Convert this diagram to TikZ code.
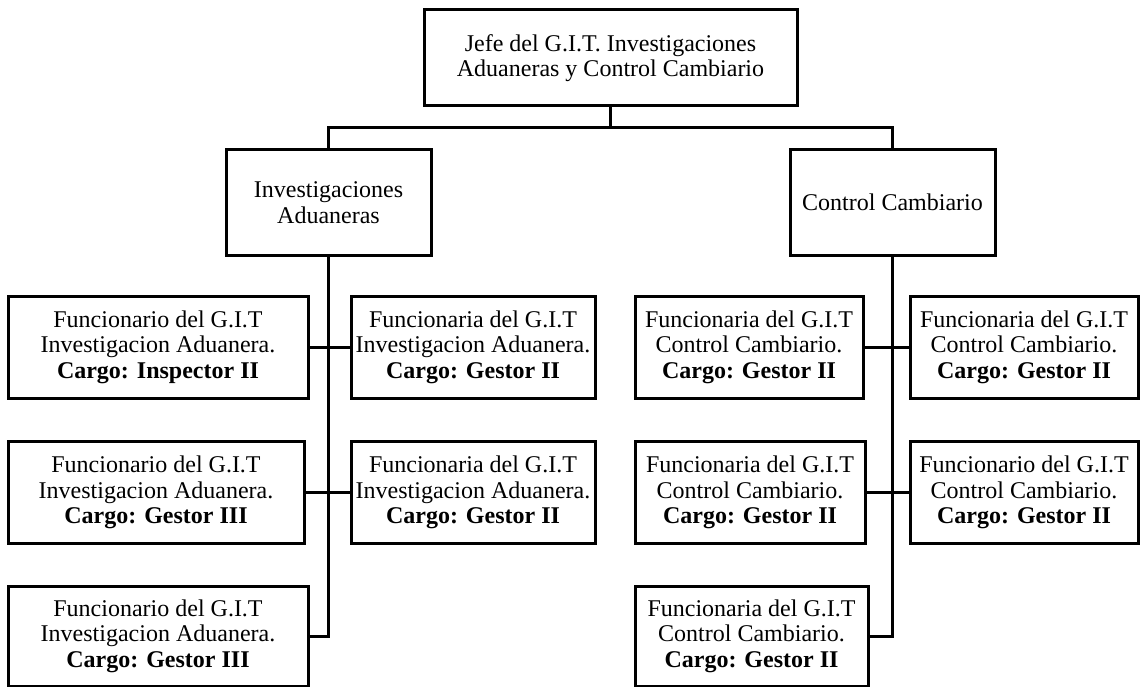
\documentclass[tikz,border=0pt]{standalone}
\usepackage{fontspec}
\setmainfont{Liberation Serif}
\usetikzlibrary{arrows, positioning}

\begin{document}
\begin{tikzpicture}[x=1pt,y=-1pt]
\tikzstyle{Box}=[draw, line width=3pt, align=center, inner sep=0pt, minimum height=102pt, font=\fontsize{24}{25.5}\selectfont]
\tikzstyle{EdgeStyle}=[line width=3pt]
\useasboundingbox (0,0) rectangle (1140,687);

\node[Box, minimum width=373pt, minimum height=96pt] (0) at (610.5,58) {Jefe del G.I.T. Investigaciones\\Aduaneras y Control Cambiario};
\node[Box, minimum width=205pt, minimum height=105pt] (1) at (328.5,202.5) {Investigaciones\\Aduaneras};
\node[Box, minimum width=205pt, minimum height=105pt] (2) at (892.5,202.5) {Control Cambiario};

\node[Box, minimum width=300pt] (3) at (158,347) {Funcionario del G.I.T\\Investigacion Aduanera.\\\textbf{Cargo: Inspector II}};
\node[Box, minimum width=244pt] (4) at (473,347) {Funcionaria del G.I.T\\Investigacion Aduanera.\\\textbf{Cargo: Gestor II}};
\node[Box, minimum width=296pt] (5) at (156,492.5) {Funcionario del G.I.T\\Investigacion Aduanera.\\\textbf{Cargo: Gestor III}};
\node[Box, minimum width=244pt] (6) at (473,492.5) {Funcionaria del G.I.T\\Investigacion Aduanera.\\\textbf{Cargo: Gestor II}};
\node[Box, minimum width=300pt, minimum height=100pt] (7) at (158,636) {Funcionario del G.I.T\\Investigacion Aduanera.\\\textbf{Cargo: Gestor III}};

\node[Box, minimum width=228pt] (8) at (749,347) {Funcionaria del G.I.T\\Control Cambiario.\\\textbf{Cargo: Gestor II}};
\node[Box, minimum width=228pt] (9) at (1024,347) {Funcionaria del G.I.T\\Control Cambiario.\\\textbf{Cargo: Gestor II}};
\node[Box, minimum width=230pt] (10) at (750,492.5) {Funcionaria del G.I.T\\Control Cambiario.\\\textbf{Cargo: Gestor II}};
\node[Box, minimum width=228pt] (11) at (1024,492.5) {Funcionario del G.I.T\\Control Cambiario.\\\textbf{Cargo: Gestor II}};
\node[Box, minimum width=233pt, minimum height=100pt] (12) at (751.5,636) {Funcionaria del G.I.T\\Control Cambiario.\\\textbf{Cargo: Gestor II}};

\coordinate (t) at (610.5,128);

\draw[EdgeStyle] (0.south) -- (0.south|-t);
\draw[EdgeStyle] (1.north) -- (1.north|-t) -- (2.north|-t) -- (2.north);

\draw[EdgeStyle] (1.south) -- (1.south|-7.east) -- (7.east);
\draw[EdgeStyle] (3.east) -- (4.west);
\draw[EdgeStyle] (5.east) -- (6.west);

\draw[EdgeStyle] (2.south) -- (2.south|-12.east) -- (12.east);
\draw[EdgeStyle] (8.east) -- (9.west);
\draw[EdgeStyle] (10.east) -- (11.west);

\end{tikzpicture}
\end{document}
